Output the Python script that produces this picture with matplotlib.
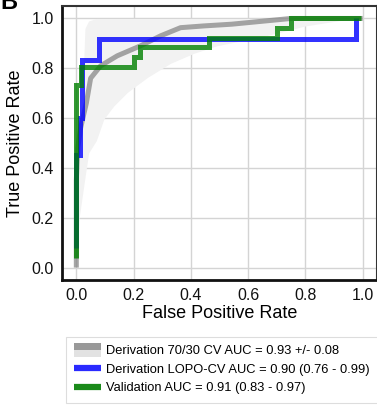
import matplotlib
matplotlib.use("Agg")
import matplotlib.pyplot as plt
from matplotlib.lines import Line2D
from matplotlib.patches import Rectangle
from matplotlib.legend_handler import HandlerBase

plt.rcParams['font.family'] = ['Liberation Sans', 'DejaVu Sans']

# Mean ROC across 70/30 CV splits and its +/- 1 std band
mean_fpr = [0.0, 0.0, 0.005, 0.015, 0.035, 0.05, 0.085, 0.143, 0.224, 0.294,
            0.364, 0.445, 0.543, 0.66, 0.75, 1.0]
mean_tpr = [0.0, 0.35, 0.48, 0.56, 0.66, 0.76, 0.81, 0.85, 0.89, 0.93,
            0.963, 0.97, 0.977, 0.99, 1.0, 1.0]

band_fpr = [0.0, 0.005, 0.01, 0.02, 0.025, 0.03, 0.043, 0.07, 0.096, 0.131,
            0.178, 0.248, 0.329, 0.41, 0.49, 0.66, 0.80, 0.95, 1.0]
band_upper = [0.0, 0.30, 0.45, 0.65, 0.80, 0.96, 0.99, 1.0, 1.0, 1.0,
              1.0, 1.0, 1.0, 1.0, 1.0, 1.0, 1.0, 1.0, 1.0]
band_lower = [0.0, 0.12, 0.20, 0.28, 0.32, 0.36, 0.46, 0.51, 0.596, 0.649,
              0.703, 0.763, 0.82, 0.86, 0.89, 0.93, 0.97, 0.997, 1.0]

# Leave-one-patient-out CV ROC
lopo_fpr = [0.0, 0.0, 0.012, 0.012, 0.02, 0.02, 0.08, 0.08, 0.975, 0.975]
lopo_tpr = [0.08, 0.45, 0.45, 0.60, 0.60, 0.834, 0.834, 0.917, 0.917, 1.0]

# Validation cohort ROC
val_fpr = [0.0, 0.0, 0.015, 0.015, 0.20, 0.20, 0.223, 0.223, 0.462, 0.462,
           0.70, 0.70, 0.75, 0.75, 0.995]
val_tpr = [0.04, 0.733, 0.733, 0.807, 0.807, 0.847, 0.847, 0.885, 0.885, 0.92,
           0.92, 0.96, 0.96, 1.0, 1.0]

labels = [
    "Derivation 70/30 CV AUC = 0.93 +/- 0.08",
    "Derivation LOPO-CV AUC = 0.90 (0.76 - 0.99)",
    "Validation AUC = 0.91 (0.83 - 0.97)",
]

ticks = [0.0, 0.2, 0.4, 0.6, 0.8, 1.0]

BAND_C = "#f2f2f2"
BLUE_C = "#2a2aff"
LW = 3.6

fig = plt.figure(figsize=(3.77, 4.09), dpi=100)
ax = fig.add_axes([62 / 377, (409 - 280) / 409, 315 / 377, 274 / 409])

ax.fill_between(band_fpr, band_lower, band_upper, color=BAND_C, lw=0, zorder=1)
ax.plot(mean_fpr, mean_tpr, color="grey", alpha=0.7, lw=LW, zorder=2,
        solid_capstyle="butt")
ax.plot(lopo_fpr, lopo_tpr, color="blue", alpha=0.8, lw=LW, zorder=3,
        solid_joinstyle="miter", solid_capstyle="butt")
ax.plot(val_fpr, val_tpr, color="green", alpha=0.8, lw=LW, zorder=4,
        solid_joinstyle="miter", solid_capstyle="butt")

ax.set_xlim(-0.05, 1.05)
ax.set_ylim(-0.05, 1.05)
ax.set_xticks(ticks)
ax.set_yticks(ticks)
ax.set_xticklabels([f"{t:.1f}" for t in ticks])
ax.set_yticklabels([f"{t:.1f}" for t in ticks])
ax.tick_params(length=0, labelsize=11.5, pad=6, labelcolor="#111111")
ax.grid(True, color="#d4d4d4", lw=1.0, zorder=0)
ax.set_axisbelow(True)
for side in ["left", "bottom"]:
    ax.spines[side].set_color("#111111")
    ax.spines[side].set_linewidth(2.0)
for side in ["top", "right"]:
    ax.spines[side].set_color("#333333")
    ax.spines[side].set_linewidth(1.5)

ax.set_xlabel("False Positive Rate", fontsize=13, labelpad=1)
ax.set_ylabel("True Positive Rate", fontsize=13, labelpad=5)

fig.text(0.0, 1 - 9 / 409, "B", fontsize=17, fontweight="bold",
         ha="left", va="baseline")


class BandHandler(HandlerBase):
    def create_artists(self, legend, orig_handle, xdescent, ydescent,
                       width, height, fontsize, trans):
        h = height * 1.5
        y0 = -ydescent + (height - h) / 2
        light = Rectangle((-xdescent, y0), width, h, facecolor="#e2e2e2",
                          edgecolor="none", transform=trans)
        dark = Rectangle((-xdescent, y0 + h * 0.5), width, h * 0.5,
                         facecolor="#999999", edgecolor="none", transform=trans)
        return [light, dark]


band_handle = Rectangle((0, 0), 1, 1)
lopo_handle = Line2D([], [], color=BLUE_C, lw=4.5, solid_capstyle="butt")
val_handle = Line2D([], [], color="#1a8a1a", lw=4.5, solid_capstyle="butt")

leg = fig.legend([band_handle, lopo_handle, val_handle], labels,
                 handler_map={Rectangle: BandHandler()},
                 loc="upper left", bbox_to_anchor=(66 / 377, 1 - 337 / 409),
                 fontsize=9.25, frameon=True, fancybox=False, framealpha=1,
                 edgecolor="#dddddd", handlelength=2.1, handleheight=0.7,
                 handletextpad=0.4, labelspacing=0.5, borderpad=0.65,
                 borderaxespad=0)
leg.get_frame().set_linewidth(0.8)

fig.savefig("out.png", dpi=100)
